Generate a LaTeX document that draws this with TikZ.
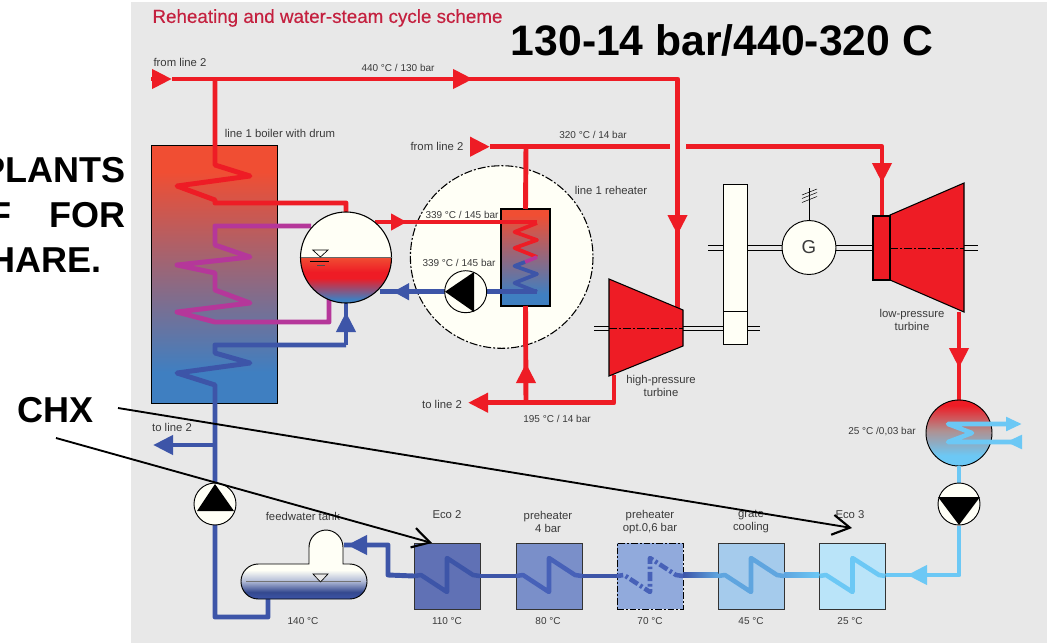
\documentclass[tikz,border=0pt]{standalone}
\usepackage{fontspec}
\setmainfont{Liberation Sans}
\newfontfamily\titlefont[FakeBold=0.35]{Liberation Sans}
\usetikzlibrary{arrows.meta}

\definecolor{panelgrey}{HTML}{E8E8E8}
\definecolor{ivory}{HTML}{FFFFF6}
\definecolor{pipered}{HTML}{EE1C25}
\definecolor{pipepurple}{HTML}{B5379A}
\definecolor{pipeblue}{HTML}{3D55A8}
\definecolor{pipefour}{HTML}{4761B8}
\definecolor{pipemid}{HTML}{5FA5DF}
\definecolor{pipelight}{HTML}{6CC8F5}
\definecolor{hotorange}{HTML}{F04E33}
\definecolor{coolblue}{HTML}{3F7FC1}
\definecolor{labelgrey}{HTML}{3A3A3A}
\definecolor{titlered}{HTML}{C4203F}
\definecolor{midgrey}{HTML}{B09090}
\definecolor{ecotwofill}{HTML}{6071B5}
\definecolor{prefourfill}{HTML}{7A8FC9}
\definecolor{preoptfill}{HTML}{91AADC}
\definecolor{gratefill}{HTML}{A5CBEC}
\definecolor{ecothreefill}{HTML}{BAE4F9}

\pgfdeclareverticalshading{boilerfill}{100bp}{color(0bp)=(coolblue); color(31bp)=(coolblue); color(70bp)=(hotorange); color(100bp)=(hotorange)}
\pgfdeclareverticalshading{reheatfill}{100bp}{color(0bp)=(coolblue); color(31bp)=(coolblue); color(72bp)=(hotorange); color(100bp)=(hotorange)}
\pgfdeclareverticalshading{drumfill}{100bp}{color(0bp)=(coolblue); color(27bp)=(coolblue); color(38.7bp)=(pipered); color(42bp)=(pipered); color(50.2bp)=(hotorange); color(50.3bp)=(ivory); color(100bp)=(ivory)}
\pgfdeclareverticalshading{condfill}{100bp}{color(0bp)=(pipelight); color(33bp)=(pipelight); color(52bp)=(midgrey); color(71bp)=(pipered); color(100bp)=(pipered)}
\pgfdeclareverticalshading{tankfill}{100bp}{color(0bp)=(pipeblue); color(25bp)=(pipeblue); color(30bp)=(pipeblue!85!black); color(38bp)=(pipeblue!40!ivory); color(46bp)=(ivory); color(100bp)=(ivory)}

\tikzset{
  lbl/.style={font=\fontsize{7.5}{9.75}\selectfont,text=labelgrey,inner sep=0pt,align=center},
  wordlbl/.style={font=\fontsize{8.5}{9.75}\selectfont,text=labelgrey,inner sep=0pt,align=center},
  bigtxt/.style={font=\fontsize{27}{32}\selectfont\bfseries,text=black,inner sep=0pt},
  pipe/.style={line width=3.7pt,line join=round},
  redpipe/.style={pipe,color=pipered},
  purplepipe/.style={pipe,color=pipepurple},
  bluepipe/.style={pipe,color=pipeblue},
  lightpipe/.style={pipe,color=pipelight},
  coil/.style={line width=2.8pt,line join=round},
  boxcoil/.style={line width=3.4pt,line join=round},
  headlong/.style={-{Triangle[length=15pt,width=14pt]}},
  headsmall/.style={-{Triangle[length=12pt,width=12pt]}},
  thinhead/.style={-{Triangle[length=12pt,width=10pt]}},
  shaft/.style={line width=0.6pt,color=black},
  axisline/.style={line width=0.7pt,color=black,dash pattern=on 6pt off 1.5pt on 1.5pt off 1.5pt},
  pump/.style={circle,draw=black,fill=ivory,line width=0.7pt,minimum size=31.5pt,inner sep=0pt,outer sep=0pt},
  ecobox/.style={rectangle,draw=black!80,line width=0.7pt,minimum width=49.5pt,minimum height=49.5pt,inner sep=0pt,outer sep=0pt},
  pointer/.style={line width=1.4pt,color=black,-{Straight Barb[length=13pt,width=15pt,line width=1.6pt]}}
}

\begin{document}
\begin{tikzpicture}[x=0.75pt,y=0.75pt,yscale=-1]
\useasboundingbox (0,0) rectangle (1050,643);

%Shape: Panel
\fill [panelgrey] (131,2) rectangle (1047,643);

%Shape: Reheater circle
\draw [fill=ivory,line width=0.8pt,dash pattern=on 6pt off 1.5pt on 1.5pt off 1.5pt] (501.7,257) circle (91.3);

%Shape: Boiler
\node [rectangle,draw=black,line width=0.8pt,shading=boilerfill,minimum width=94pt,minimum height=193pt,inner sep=0pt,outer sep=0pt] (boiler) at (214.5,274.5) {};
%Shape: Reheater
\node [rectangle,draw=black,line width=0.8pt,shading=reheatfill,minimum width=36.75pt,minimum height=72.75pt,inner sep=0pt,outer sep=0pt] (reheater) at (525.5,257.5) {};

%Red main lines
\draw [redpipe] (215,79) -- (215,165) -- (250,176) -- (177,186) -- (215,200) -- (215,203) -- (346,203) -- (346,212);
\draw [redpipe,headlong] (151,79) -- (172,79);
\draw [redpipe] (172,79) -- (677.5,79) -- (677.5,310);
\draw [redpipe,headlong] (453,79) -- (473,79);
\draw [redpipe,headlong] (677.5,214) -- (677.5,235);
\draw [redpipe,headlong] (470,146.7) -- (490,146.7);
\draw [redpipe] (490,146.7) -- (670,146.7);
\draw [redpipe] (686,146.7) -- (882,146.7) -- (882,216);
\draw [redpipe,headlong] (882,163) -- (882,183);
\draw [redpipe] (526,146.7) -- (reheater.north);
\draw [redpipe] (reheater.south) -- (526,402.7);
\draw [redpipe,headlong] (526,386) -- (526,363);
\draw [redpipe] (614,375) -- (614,402.7) -- (490,402.7);
\draw [redpipe,headlong] (494,402.7) -- (468,402.7);
\draw [redpipe] (959,312) -- (959,400);
\draw [redpipe,headlong] (959,348) -- (959,368);

%Purple and blue boiler lines
\draw [purplepipe] (311,226) -- (215,226) -- (215,245) -- (250,257) -- (177,265) -- (215,273) -- (215,290) -- (250,303) -- (177,312) -- (215,322) -- (329,322) -- (329,298);
\draw [bluepipe] (346,345) -- (215,345) -- (215,353) -- (250,363) -- (177,373) -- (215,385) -- (215,617) -- (268,617) -- (268,597);
\draw [bluepipe] (346,345) -- (346,300);
\draw [bluepipe,headlong] (346,335) -- (346,312);
\draw [bluepipe] (215,445) -- (175,445);
\draw [bluepipe,headlong] (179,445) -- (153,445);

%Reheater coil
\draw [bluepipe] (380,291.7) -- (537,291.7);
\draw [bluepipe,headsmall] (409,291.7) -- (393,291.7);
\draw [redpipe] (375,222) -- (537,222);
\draw [redpipe,headsmall] (390,222) -- (407,222);
\draw [coil,color=pipered] (537,223) -- (514.5,232) -- (537,240) -- (514.5,248) -- (537,257);
\draw [coil,color=pipepurple] (537,257) -- (525,262);
\draw [coil,color=pipeblue] (525,262) -- (514.5,266) -- (537,274) -- (514.5,283) -- (537,292);

%Shape: Drum
\node [circle,draw=black,line width=0.8pt,shading=drumfill,minimum size=68.25pt,inner sep=0pt,outer sep=0pt] (drum) at (346,257.5) {};
\draw [line width=0.5pt,color=black!60] (drum.west) -- (drum.east);
\draw [line width=0.5pt,color=black,fill=ivory] (312.7,250) -- (328,250) -- (320.4,257) -- cycle;
\draw [line width=0.7pt,color=black] (310,261) -- (329,261);
\draw [line width=0.7pt,color=black!70] (317,265) -- (325,265);

%Shape: Pumps
\node [pump] (pumpfeed) at (215,504) {};
\fill (215,484) -- (234,511) -- (197,511) -- cycle;
\node [pump] (pumpdrum) at (465.7,291.7) {};
\fill (445,291.7) -- (474,272) -- (474,312) -- cycle;

%Shape: High pressure turbine
\draw [shaft] (594,326) -- (609,326) (594,330) -- (609,330);
\draw [fill=pipered,line width=0.8pt] (609,279) -- (683,310) -- (683,346) -- (609,376) -- cycle;
\draw [axisline] (609,328) -- (683,328);
\draw [shaft] (683,326) -- (723,326) (683,330) -- (723,330);

%Shape: Gear
\node [rectangle,draw=black,line width=0.7pt,fill=ivory,minimum width=18pt,minimum height=120pt,inner sep=0pt,outer sep=0pt] (gear) at (735,264) {};
\draw [line width=0.7pt] (723,311) -- (747,311);
\draw [shaft] (747,326) -- (760,326) (747,330) -- (760,330);
\draw [shaft] (708,245) -- (723,245) (708,250) -- (723,250);

%Shape: Generator
\node [circle,draw=black,line width=0.7pt,fill=ivory,minimum size=40.5pt,inner sep=0pt,outer sep=0pt,font=\fontsize{14}{16}\selectfont,text=labelgrey] (gen) at (809,247.5) {G};
\draw [shaft] (747,245) -- (782,245) (747,250) -- (782,250);
\draw [line width=0.6pt] (gen.north) -- (809,188);
\draw [line width=0.4pt] (802,195) -- (817,189) (802,198.5) -- (817,192.5) (802,202.5) -- (817,196.5);

%Shape: Low pressure turbine
\draw [shaft] (836,245) -- (873,245) (836,250) -- (873,250);
\draw [fill=pipered,line width=0.8pt] (890,215) -- (964,183) -- (964,312) -- (890,280) -- cycle;
\node [rectangle,draw=black,line width=0.8pt,fill=pipered,minimum width=12.75pt,minimum height=48pt,inner sep=0pt,outer sep=0pt] (lpbox) at (881.5,248) {};
\draw [axisline] (890,248) -- (964,248);
\draw [shaft] (964,245) -- (978,245) (964,250) -- (978,250);

%Shape: Condenser
\node [circle,draw=black,line width=0.7pt,shading=condfill,minimum size=49.5pt,inner sep=0pt,outer sep=0pt] (cond) at (959,433) {};
\draw [line width=3.4pt,line join=round,color=pipelight] (1010,424) -- (948,424) -- (972,433) -- (948,442) -- (1012,442);
\draw [line width=3.4pt,color=pipelight,thinhead] (1006,424) -- (1022,424);
\draw [line width=3.4pt,color=pipelight,thinhead] (1022,442) -- (1006,442);

%Light feed line
\draw [lightpipe] (cond.south) -- (959,484);
\draw [lightpipe] (959,526) -- (959,575) -- (886,575);
\draw [lightpipe,headlong] (928,575) -- (907,575);
\node [pump] (pumpcond) at (959,504) {};
\fill (938,497) -- (980,497) -- (959,525) -- cycle;

%Shape: Feedwater tank
\path [draw=black,line width=0.7pt,shading=tankfill] (300,599) [rounded corners=13pt] -- (241,599) -- (241,564) [sharp corners] -- (309,564) [rounded corners=13pt] -- (309,530) -- (343,530) [sharp corners] -- (343,564) [rounded corners=13pt] -- (367,564) -- (367,599) -- cycle;
\draw [line width=0.7pt,color=black!55] (246,581) -- (361,581);
\draw [line width=0.5pt,color=black,fill=panelgrey] (313,574) -- (328,574) -- (320.5,582) -- cycle;

%Shape: Heat exchangers
\node [ecobox,fill=ecotwofill] (eco2) at (447,576) {};
\node [ecobox,fill=prefourfill] (pre4) at (549,576) {};
\node [ecobox,draw=black,fill=preoptfill,dash pattern=on 5pt off 1.5pt on 1.5pt off 1.5pt] (preopt) at (650,576) {};
\node [ecobox,fill=gratefill] (grate) at (751,576) {};
\node [ecobox,fill=ecothreefill] (eco3) at (852.5,576) {};

%Feed line with coils
\draw [boxcoil,color=pipelight] (eco3.east) -- (879,575) -- (852.5,558) -- (852.5,592) -- (826,575) -- (eco3.west);
\shade [left color=pipemid,right color=pipelight] (784,572.5) rectangle (819,577.5);
\draw [boxcoil,color=pipemid] (grate.east) -- (777,575) -- (751,558) -- (751,592) -- (725,575) -- (grate.west);
\shade [left color=pipeblue,right color=pipemid] (683,572.5) rectangle (718,577.5);
\draw [boxcoil,color=pipefour,dash pattern=on 7pt off 2pt on 2pt off 2pt] (preopt.east) -- (676,575) -- (650,558) -- (650,592) -- (624,575) -- (preopt.west);
\draw [bluepipe] (preopt.west) -- (pre4.east);
\draw [boxcoil,color=pipefour] (pre4.east) -- (575,575) -- (549,558) -- (549,592) -- (523,575) -- (pre4.west);
\draw [bluepipe] (pre4.west) -- (eco2.east);
\draw [boxcoil,color=pipeblue] (eco2.east) -- (473,575) -- (447,558) -- (447,592) -- (421,575) -- (eco2.west);
\draw [bluepipe] (eco2.west) -- (388,575) -- (388,545) -- (344,545);
\draw [bluepipe,headlong] (372,545) -- (347,545);

% Text Node
\draw (327.5,18) node [inner sep=0pt,text=titlered,font=\titlefont\fontsize{14.1}{16}\selectfont] (title) {Reheating and water-steam cycle scheme};
% Text Node
\draw (722,40) node [inner sep=0pt,text=black,font=\fontsize{32}{36}\selectfont\bfseries] (pressures) {130-14 bar/440-320 C};
% Text Node
\draw (126,170) node [bigtxt,anchor=east] (plants) {PLANTS};
% Text Node
\draw (126,215) node [bigtxt,anchor=east] (forword) {F\hspace{28.5pt}FOR};
% Text Node
\draw (102,260) node [bigtxt,anchor=east] (share) {HARE.};
% Text Node
\draw (56,410) node [bigtxt] (chx) {CHX};
% Text Node
\draw (180,62) node [wordlbl] (fromA) {from line 2};
% Text Node
\draw (398,68) node [lbl] (steamhp) {440 °C / 130 bar};
% Text Node
\draw (280,133) node [wordlbl] (boilerlbl) {line 1 boiler with drum};
% Text Node
\draw (437,146) node [wordlbl] (fromB) {from line 2};
% Text Node
\draw (593,135) node [lbl] (steamlp) {320 °C / 14 bar};
% Text Node
\draw (611,190) node [wordlbl] (reheatlbl) {line 1 reheater};
% Text Node
\draw (462,215) node [lbl] (drumout) {339 °C / 145 bar};
% Text Node
\draw (459,263) node [lbl] (drumin) {339 °C / 145 bar};
% Text Node
\draw (442,404) node [wordlbl] (toA) {to line 2};
% Text Node
\draw (557,419) node [lbl] (reheatout) {195 °C / 14 bar};
% Text Node
\draw (661,386) node [wordlbl] (hplbl) {high-pressure\\turbine};
% Text Node
\draw (912,320) node [wordlbl] (lplbl) {low-pressure\\turbine};
% Text Node
\draw (882,432) node [lbl] (condlbl) {25 °C /0,03 bar};
% Text Node
\draw (172,427) node [wordlbl] (toB) {to line 2};
% Text Node
\draw (303,516) node [wordlbl] (tanklbl) {feedwater tank};
% Text Node
\draw (303,621) node [lbl] (tanktemp) {140 °C};
% Text Node
\draw (447,515) node [wordlbl] (ecotwolbl) {Eco 2};
% Text Node
\draw (447,621) node [lbl] (ecotwotemp) {110 °C};
% Text Node
\draw (548,522) node [wordlbl] (prefourlbl) {preheater\\4 bar};
% Text Node
\draw (548,621) node [lbl] (prefourtemp) {80 °C};
% Text Node
\draw (650,522) node [wordlbl] (preoptlbl) {preheater\\opt.0,6 bar};
% Text Node
\draw (650,621) node [lbl] (preopttemp) {70 °C};
% Text Node
\draw (751,522) node [wordlbl] (gratelbl) {grate\\cooling};
% Text Node
\draw (751,621) node [lbl] (gratetemp) {45 °C};
% Text Node
\draw (850,515) node [wordlbl] (ecothreelbl) {Eco 3};
% Text Node
\draw (850,621) node [lbl] (ecothreetemp) {25 °C};

%Straight Lines
\coordinate (chxupper) at (118,408);
\coordinate (chxlower) at (56,438);
\draw [pointer] (chxupper) -- (852,528);
\draw [pointer] (chxlower) -- (432,543);

\end{tikzpicture}
\end{document}
